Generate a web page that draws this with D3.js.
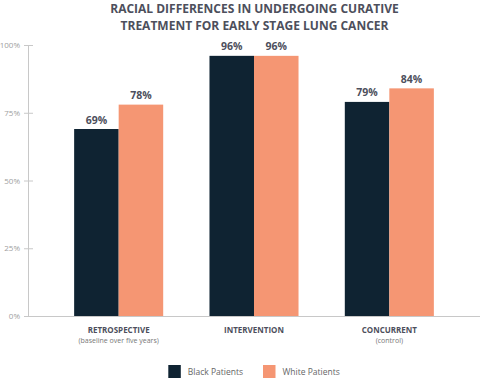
<!DOCTYPE html>
<html><head><meta charset="utf-8">
<script src="https://cdn.jsdelivr.net/npm/d3@7"></script>
<style>body{margin:0;background:#fff;font-family:"Open Sans",sans-serif;}</style>
</head><body>
<svg id="c" width="480" height="378"></svg>
<script>
const categories = ["RETROSPECTIVE","INTERVENTION","CONCURRENT"];
const subtitles = ["(baseline over five years)","","(control)"];
const seriesNames = ["Black Patients","White Patients"];
const blackValues = [69,96,79];
const whiteValues = [78,96,84];
const yTicks = [0,25,50,75,100];
const titleLines = ["RACIAL DIFFERENCES IN UNDERGOING CURATIVE","TREATMENT FOR EARLY STAGE LUNG CANCER"];
const colors = ["#0f2332","#f59673"];

const svg = d3.select("#c");
const x0 = d3.scaleBand().domain(categories).range([51,457]).paddingInner(0.342).paddingOuter(0.171);
const x1 = d3.scaleBand().domain(seriesNames).range([0,x0.bandwidth()]);
const y = d3.scaleLinear().domain([0,100]).range([316,45]);

// title
svg.append("g").selectAll("text").data(titleLines).join("text")
  .attr("x",254.5).attr("y",(d,i)=>13.2+i*16.4).attr("text-anchor","middle")
  .attr("font-size",12).attr("font-weight",700).attr("fill","#4d4f5c").text(d=>d);

// y axis
const yAxis = d3.axisLeft(y).tickValues(yTicks).tickFormat(d=>d+"%").tickSize(9).tickSizeOuter(0);
const ga = svg.append("g").attr("transform","translate(33,0)").call(yAxis);
ga.select(".domain").remove();
ga.selectAll(".tick line").attr("stroke","#c8c8c8");
ga.selectAll(".tick text").attr("fill","#a0a0a0").attr("font-size",8).attr("font-family","Open Sans").attr("x",-13);
svg.append("line").attr("x1",28.5).attr("x2",28.5).attr("y1",y(100)).attr("y2",y(0)).attr("stroke","#c8c8c8");
svg.append("line").attr("x1",28).attr("x2",480).attr("y1",y(0)+0.5).attr("y2",y(0)+0.5).attr("stroke","#c8c8c8");

const data = categories.map((c,i)=>({c, vals:[blackValues[i],whiteValues[i]]}));
const g = svg.append("g").selectAll("g").data(data).join("g").attr("transform",d=>`translate(${x0(d.c)},0)`);
g.selectAll("rect").data(d=>d.vals.map((v,j)=>({v,s:seriesNames[j],j}))).join("rect")
  .attr("x",d=>x1(d.s)).attr("width",x1.bandwidth()).attr("y",d=>y(d.v)).attr("height",d=>y(0)-y(d.v))
  .attr("fill",d=>colors[d.j]);
g.selectAll("text.v").data(d=>d.vals.map((v,j)=>({v,s:seriesNames[j]}))).join("text").attr("class","v")
  .attr("x",d=>x1(d.s)+x1.bandwidth()/2).attr("y",d=>y(d.v)-5.5).attr("text-anchor","middle")
  .attr("font-size",10.5).attr("font-weight",700).attr("fill","#4d4f5c").text(d=>d.v+"%");

// category labels
svg.append("g").selectAll("text").data(categories).join("text")
  .attr("x",d=>x0(d)+x0.bandwidth()/2).attr("y",333).attr("text-anchor","middle")
  .attr("font-size",8).attr("font-weight",700).attr("fill","#4d4f5c").text(d=>d);
svg.append("g").selectAll("text").data(subtitles).join("text")
  .attr("x",(d,i)=>x0(categories[i])+x0.bandwidth()/2).attr("y",342.5).attr("text-anchor","middle")
  .attr("font-size",7).attr("fill","#777").text(d=>d);

// legend
const lx = [168.3,263];
const lg = svg.append("g").selectAll("g").data(seriesNames).join("g").attr("transform",(d,i)=>`translate(${lx[i]},365)`);
lg.append("rect").attr("width",12.5).attr("height",13).attr("fill",(d,i)=>colors[i]);
lg.append("text").attr("x",19.5).attr("y",9.5).attr("font-size",8.5).attr("fill","#666").text(d=>d);
</script>
</body></html>
